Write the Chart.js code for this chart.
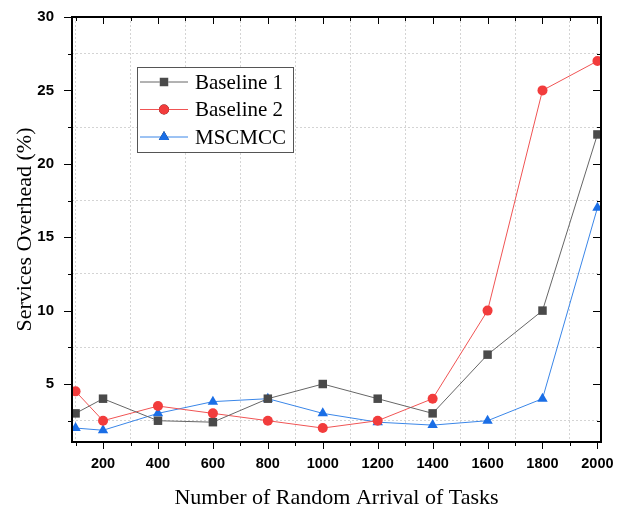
<!DOCTYPE html>
<html>
<head>
<meta charset="utf-8">
<script src="https://cdn.jsdelivr.net/npm/chart.js@4.4.1/dist/chart.umd.min.js"></script>
<style>
html,body{margin:0;padding:0;background:#fff;}
#wrap{width:627px;height:508px;}
</style>
</head>
<body>
<div id="wrap"><canvas id="c" width="627" height="508"></canvas></div>
<script>
const tasks = [100, 200, 400, 600, 800, 1000, 1200, 1400, 1600, 1800, 2000];
const baseline1 = [3, 4, 2.5, 2.4, 4, 5, 4, 3, 7, 10, 22];
const baseline2 = [4.5, 2.5, 3.5, 3, 2.5, 2, 2.5, 4, 10, 25, 27];
const mscmcc = [2, 1.85, 3, 3.8, 4, 3, 2.4, 2.2, 2.5, 4, 17];
const xTickValues = [100,200,300,400,500,600,700,800,900,1000,1100,1200,1300,1400,1500,1600,1700,1800,1900,2000];
const yTickValues = [2.5,5,7.5,10,12.5,15,17.5,20,22.5,25,27.5,30];
const seriesNames = ['Baseline 1', 'Baseline 2', 'MSCMCC'];

function pts(vals){ return tasks.map((t,i)=>({x:t, y:vals[i]})); }

const C1 = '#4a4a4a', L1 = '#666666';
const C2 = '#f23c3c', L2 = '#f05454';
const C3 = '#1a6ee6', L3 = '#3a86e8';

const frameTicks = {
  id:'frameTicks',
  afterDatasetsDraw(chart){
    const {ctx, chartArea:a, scales:{x,y}} = chart;
    ctx.save();
    ctx.strokeStyle = '#000';
    ctx.lineWidth = 1;
    xTickValues.forEach(v=>{
      const px = Math.round(x.getPixelForValue(v))+0.5;
      const major = v % 200 === 0;
      ctx.beginPath();
      ctx.moveTo(px, a.bottom); ctx.lineTo(px, a.bottom + (major?7:4));
      ctx.moveTo(px, a.top); ctx.lineTo(px, a.top + (major?7:4));
      ctx.stroke();
    });
    yTickValues.forEach(v=>{
      const py = Math.round(y.getPixelForValue(v))+0.5;
      const major = v % 5 === 0;
      ctx.beginPath();
      ctx.moveTo(a.left, py); ctx.lineTo(a.left - (major?8:4), py);
      ctx.moveTo(a.right, py); ctx.lineTo(a.right - (major?8:4), py);
      ctx.stroke();
    });
    ctx.lineWidth = 2;
    ctx.strokeRect(a.left, a.top, a.right - a.left, a.bottom - a.top);
    ctx.restore();
  }
};

const legendBox = {
  id:'legendBox',
  afterDraw(chart){
    const ctx = chart.ctx;
    ctx.save();
    const bx = 137, by = 67, bw = 156, bh = 85;
    ctx.fillStyle = '#fff';
    ctx.fillRect(bx, by, bw, bh);
    ctx.strokeStyle = '#555';
    ctx.lineWidth = 1;
    ctx.strokeRect(bx+0.5, by+0.5, bw, bh);
    ctx.font = '21px "Liberation Serif"';
    ctx.textBaseline = 'middle';
    chart.data.datasets.forEach((ds, i)=>{
      const yy = 82 + i*27.5;
      ctx.strokeStyle = ds.borderColor;
      ctx.lineWidth = 1;
      ctx.beginPath(); ctx.moveTo(140, yy); ctx.lineTo(188, yy); ctx.stroke();
      Chart.helpers.drawPoint(ctx, {pointStyle: ds.pointStyle, radius: ds.pointRadius, rotation:0, borderWidth:0}, 164, yy);
      ctx.fillStyle = ds.pointBackgroundColor;
      ctx.fill();
      ctx.fillStyle = '#000';
      ctx.fillText(ds.label, 195, yy+1);
    });
    ctx.restore();
  }
};

new Chart(document.getElementById('c'), {
  type:'line',
  data:{
    datasets:[
      {label:seriesNames[0], data:pts(baseline1), borderColor:L1, borderWidth:1, pointStyle:'rect', pointRadius:6, pointBackgroundColor:C1, pointBorderColor:C1, pointBorderWidth:0},
      {label:seriesNames[1], data:pts(baseline2), borderColor:L2, borderWidth:1, pointStyle:'circle', pointRadius:5, pointBackgroundColor:C2, pointBorderColor:C2, pointBorderWidth:0},
      {label:seriesNames[2], data:pts(mscmcc), borderColor:L3, borderWidth:1, pointStyle:'triangle', pointRadius:6, pointBackgroundColor:C3, pointBorderColor:C3, pointBorderWidth:0}
    ]
  },
  options:{
    responsive:false,
    animation:false,
    events:[],
    layout:{padding:{left:0, top:17, right:26, bottom:0}},
    plugins:{legend:{display:false}, tooltip:{enabled:false}},
    scales:{
      x:{
        type:'linear', min:87, max:2013,
        afterBuildTicks(s){ s.ticks = xTickValues.map(v=>({value:v})); },
        afterFit(s){ s.height = 66; s.paddingLeft = 0; s.paddingRight = 0; },
        ticks:{autoSkip:false, maxRotation:0, padding:13, color:'#000', font:{family:'"Liberation Sans"', size:14.5, weight:'bold'},
          callback:(v)=> v % 200 === 0 ? String(v) : ''},
        grid:{drawTicks:false, color:(c)=> (c.tick && c.tick.value % 200 === 100) ? '#d4d4d4' : 'rgba(0,0,0,0)', lineWidth:1},
        border:{display:false, dash:[2,2]},
        title:{display:true, text:'Number of Random Arrival of Tasks', color:'#000', font:{family:'"Liberation Serif"', size:22}, padding:{top:8, bottom:-3}}
      },
      y:{
        type:'linear', min:1.05, max:30,
        afterBuildTicks(s){ s.ticks = yTickValues.map(v=>({value:v})); },
        afterFit(s){ s.width = 72; s.paddingTop = 0; s.paddingBottom = 0; },
        ticks:{autoSkip:false, padding:18, color:'#000', font:{family:'"Liberation Sans"', size:15, weight:'bold'},
          callback:(v)=> v % 5 === 0 ? String(v) : ''},
        grid:{drawTicks:false, color:(c)=> (c.tick && c.tick.value % 5 !== 0) ? '#d4d4d4' : 'rgba(0,0,0,0)', lineWidth:1},
        border:{display:false, dash:[2,2]},
        title:{display:true, text:'Services Overhead (%)', color:'#000', font:{family:'"Liberation Serif"', size:22}, padding:{top:12, bottom:0}}
      }
    }
  },
  plugins:[frameTicks, legendBox]
});
</script>
</body>
</html>
